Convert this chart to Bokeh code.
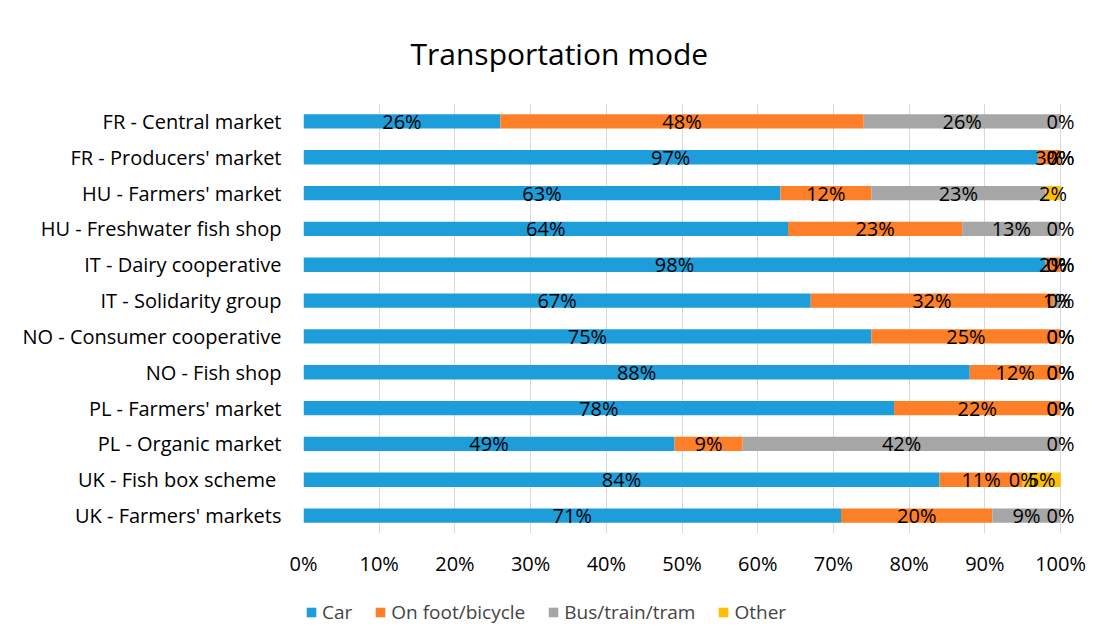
from bokeh.plotting import figure
from bokeh.layouts import column
from bokeh.models import ColumnDataSource, FactorRange, Legend, LegendItem, FixedTicker, Range1d
from bokeh.core.properties import value
from bokeh.embed import file_html
from bokeh.resources import INLINE

categories = ["FR - Central market", "FR - Producers' market", "HU - Farmers' market",
              "HU - Freshwater fish shop", "IT - Dairy cooperative", "IT - Solidarity group",
              "NO - Consumer cooperative", "NO - Fish shop", "PL - Farmers' market",
              "PL - Organic market", "UK -  Fish box scheme", "UK - Farmers' markets"]
car =   [26, 97, 63, 64, 98, 67, 75, 88, 78, 49, 84, 71]
foot =  [48, 3, 12, 23, 2, 32, 25, 12, 22, 9, 11, 20]
bus =   [26, 0, 23, 13, 0, 1, 0, 0, 0, 42, 0, 9]
other = [0, 0, 2, 0, 0, 0, 0, 0, 0, 0, 5, 0]
series_names = ["Car", "On foot/bicycle", "Bus/train/tram", "Other"]
series_keys = ["car", "foot", "bus", "other"]
colors = ["#1D9EDB", "#FD7F27", "#A6A6A6", "#FFC000"]
x_ticks = [0, 10, 20, 30, 40, 50, 60, 70, 80, 90, 100]
chart_title = "Transportation mode"

FONT = "Open Sans"
FS = "20px"
W = 1100

src = ColumnDataSource(dict(cat=categories, car=car, foot=foot, bus=bus, other=other))
factors = list(reversed(categories))

# ---------------- main chart ----------------
p = figure(width=W, height=590, output_backend="svg", toolbar_location=None,
           y_range=FactorRange(factors=factors), x_range=Range1d(0, 102.5),
           min_border_left=303, min_border_right=21, min_border_top=103, min_border_bottom=57)
p.outline_line_color = None
p.background_fill_color = "white"

p.hbar_stack(series_keys, y="cat", height=0.4, color=colors, source=src, line_color=None)

vals = [car, foot, bus, other]
lx, ly, lt = [], [], []
for i, c in enumerate(categories):
    start = 0
    for s in vals:
        v = s[i]
        lx.append(start + v / 2)
        ly.append(c)
        lt.append(f"{v}%")
        start += v
p.text(x=lx, y=ly, text=lt, text_align="center", text_baseline="middle",
       text_font=value(FONT), text_font_size=FS, text_color="black")

p.xaxis.ticker = FixedTicker(ticks=x_ticks)
p.xaxis.major_label_overrides = {t: f"{t}%" for t in x_ticks}
for ax in (p.xaxis, p.yaxis):
    ax.axis_line_color = None
    ax.major_tick_line_color = None
    ax.minor_tick_line_color = None
    ax.major_tick_out = 0
    ax.major_tick_in = 0
    ax.major_label_text_font = FONT
    ax.major_label_text_font_size = FS
    ax.major_label_text_color = "black"
p.xaxis.major_label_standoff = 16
p.yaxis.major_label_standoff = 22
p.ygrid.grid_line_color = None
p.xgrid.grid_line_color = "#D9D9D9"
p.xgrid.grid_line_width = 1

p.title.text = chart_title
p.title.align = "left"
p.title.offset = 107
p.title.standoff = 60
p.title.text_font = FONT
p.title.text_font_size = "30px"
p.title.text_font_style = "normal"
p.title.text_color = "black"

# ---------------- legend strip ----------------
lg = figure(width=W, height=50, output_backend="svg", toolbar_location=None,
            y_range=FactorRange(factors=factors), x_range=Range1d(1000, 1100),
            x_axis_type=None, y_axis_type=None,
            min_border_left=0, min_border_right=0, min_border_top=0, min_border_bottom=0)
lg.outline_line_color = None
lg.xgrid.grid_line_color = None
lg.ygrid.grid_line_color = None
lrs = lg.hbar_stack(series_keys, y="cat", height=0.4, color=colors, source=src, line_color=None)
for r in lrs:
    r.visible = False

legend = Legend(items=[LegendItem(label=n, renderers=[r]) for n, r in zip(series_names, lrs)],
                orientation="horizontal", location=(2, 15), label_text_font=FONT,
                label_text_font_size="19px", glyph_width=12, glyph_height=12, label_standoff=5,
                spacing=22, padding=0, margin=0, border_line_color=None, background_fill_alpha=0)
lg.add_layout(legend)

layout = column(p, lg, spacing=0)
open("out.html", "w").write(file_html(layout, INLINE))
